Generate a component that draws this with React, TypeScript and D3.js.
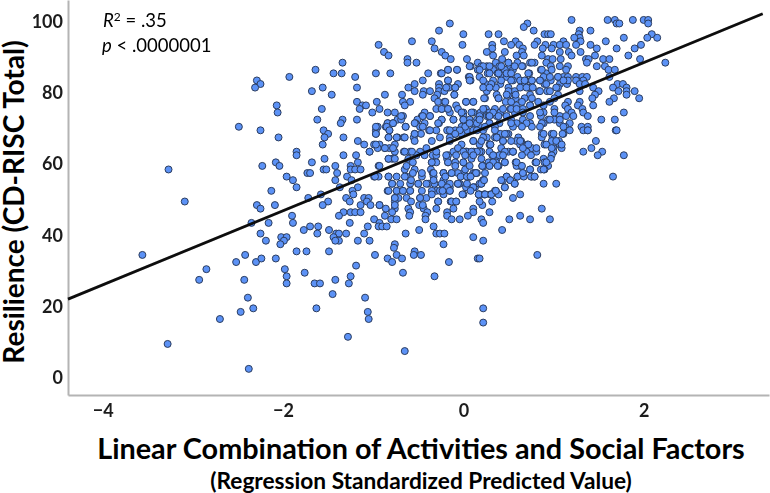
import React, { useEffect, useRef } from 'react';
import * as d3 from 'd3';

const width = 770;
const height = 493;

const xTicks = [-4, -2, 0, 2];
const yTicks = [0, 20, 40, 60, 80, 100];

// fit line, resilience = intercept + slope * predicted
const fitSlope = 10.4;
const fitIntercept = 67.2;

type Pt = [number, number];

const farLeft: Pt[] = [
  [-1.93,84],[-2.29,83],[-2.25,82],[-2.31,81],[-2.07,76],[-2.06,74],[-2.49,70],[-2.25,69],[-2.05,67],[-1.85,63],[-1.85,62],
  [-3.27,58],[-2.23,59],[-2.08,60],[-2.04,59],[-1.96,56],[-1.89,55],[-1.85,53],[-2.13,52],[-3.09,49],[-2.29,48],[-2.25,47],
  [-2.09,48],[-1.90,45],[-1.89,43],[-2.35,43],[-2.16,43],[-2.25,40],[-2.19,38],[-2.02,39],[-1.96,39],[-1.99,38],[-2.03,37],
  [-1.85,35],[-3.56,34],[-2.42,34],[-2.52,32],[-2.30,32],[-2.24,33],[-2.08,33],[-2.85,30],[-2.93,27],[-2.43,27],[-1.98,30],
  [-1.96,28],[-1.96,26],[-2.39,22],[-2.33,19],[-2.47,18],[-2.70,16],[-3.28,9],[-2.38,2],
];

const upperMiddle: Pt[] = [
  [-0.15,99],[-0.27,97],[0,96],[-0.01,93],[-0.35,94],[-0.32,92],[-0.57,94],[-0.94,93],[-0.88,91],[-0.83,90],[-0.24,91],[-0.20,90],
  [-0.14,89],[0.04,89],[-0.62,89],[-0.62,88],[-0.52,88],[-1.34,88],[-1.64,86],[-1.44,85],[-1.35,85],[-0.97,85],[-0.81,85],[-1.20,84],
  [-0.39,85],[-0.25,85],[-0.17,86],[-0.07,86],[0.08,87],[0.16,88],[0.16,86],[0.06,84],[0.08,83],[0.18,84],[-0.45,83],[-0.17,83],
  [-0.27,82],[-0.06,82],[-0.54,82],[-0.61,81],[-0.54,80],[-1.68,80],[-1.56,81],[-1.18,81],[-1.46,79],[-0.87,79],[-0.68,79],[-0.44,80],
  [-0.37,80],[-0.45,79],[-0.27,81],[-0.27,80],[-0.21,80],[-0.16,81],[-0.09,81],[-0.10,79],[-0.29,79],[-0.32,78],[-1.18,77],[-0.96,77],
  [-0.67,77],[-0.59,77],[-0.65,76],[-0.28,77],[-0.21,77],[0.03,77],[0.11,77],[-1.12,76],[-1.08,76],[-1.15,75],[-0.93,75],[-1.57,75],
  [-0.08,76],[-0.06,75],[-0.30,75],[-0.24,75],[-0.17,75],[-0.15,74],[-1.01,74],[-0.84,74],[-0.76,74],[-0.43,74],[-0.67,73],[-0.46,73],
  [-0.37,73],[0,74],[0.11,74],[0,73],[-1.62,72],[-1.34,72],[-1.18,72],[-0.73,72],[-0.69,72],[-0.51,72],[-0.24,72],[-0.11,72],[0,72],
  [0.07,72],[0.15,72],[-1.36,71],[-0.84,71],[-0.78,71],[-0.53,71],[-0.43,71],[-0.27,71],[0.02,71],[0.11,71],[-0.95,70],[-0.64,70],
  [-0.48,70],[-0.86,70],[-0.02,70],[-1.55,69],[-0.97,69],[-0.82,69],[-0.38,69],[-0.30,69],[-0.17,69],[-0.09,69],[0.04,69],[-1.50,68],
  [-0.97,68],[-0.54,68],[-0.47,68],[-0.10,68],[-1.54,67],[-1.33,67],[-1.17,66],[-0.83,67],[-0.73,67],[-0.66,67],[-0.55,67],
];

const lowerMiddle: Pt[] = [
  [-1.56,65],[-1.10,65],[-0.99,65],[-0.93,65],[-0.95,64],[-1.04,63],[-0.87,64],[-0.82,64],[-0.76,65],[-0.66,63],[-0.59,63],[-0.48,63],
  [-0.76,63],[-0.83,61],[-0.79,61],[-1.33,62],[-1.19,62],[-1.54,61],[-1.68,60],[-1.17,60],[-1.42,59],[-1.25,59],[-0.94,59],[-1.25,58],
  [-1.20,58],[-1.14,58],[-1.55,58],[-1.52,58],[-1.73,57],[-1.70,57],[-1.40,57],[-1.29,56],[-0.99,56],[-0.94,56],[-0.83,56],[-0.74,56],
  [-1.42,55],[-1.24,55],[-0.79,54],[-1.37,53],[-1.17,53],[-1.23,52],[-0.84,52],[-0.74,52],[-0.67,52],[-0.59,52],[-1.58,51],[-1.22,51],
  [-1.72,50],[-1.30,50],[-0.76,50],[-0.72,50],[-1.10,50],[-1.05,50],[-1.26,49],[-1.50,49],[-1.56,48],[-1.07,49],[-1.14,48],[-1.03,48],
  [-0.93,48],[-0.76,49],[-0.63,50],[-0.58,49],[-0.48,50],[-0.49,48],[-0.86,47],[-0.76,47],[-0.61,47],[-0.44,47],[-0.30,47],[-1.33,46],
  [-1.25,46],[-1.20,46],[-1.14,46],[-0.79,46],[-0.59,46],[-0.40,46],[-1.38,45],[-0.87,45],[-0.60,45],[-0.42,45],[-0.18,46],[0.11,47],
  [0.11,46],[0.05,45],[-0.04,44],[-0.18,45],[-0.99,44],[-0.80,44],[-0.74,44],[-0.42,44],[-0.13,44],[-1.26,43],[-0.93,43],[-0.94,42],
  [-0.90,42],[-0.85,42],[-1.06,42],[-1.70,42],[-1.61,42],[-1.77,41],[-1.49,41],[-0.49,41],[-0.33,42],[-1.10,40],[-1.30,40],[-1.62,40],
  [-1.41,40],[-1.38,40],[-0.64,40],[-0.30,40],[-0.26,40],[-0.21,40],[-1.44,39],[-1.38,38],[-1.42,38],[-1.17,38],[-1.04,38],[0.11,39],
  [-0.22,37],[-0.76,37],[-0.77,36],[-1.74,35],[-1.49,35],[-0.54,35],[-0.98,34],[-0.74,34],[-0.55,34],[-0.47,34],[0.16,33],[-0.84,33],
  [-0.68,33],[-0.79,32],[-0.16,32],[-1.19,31],[-1.76,29],[-1.65,26],[-1.59,26],[-1.42,27],[-1.25,28],[-1.27,26],[-1.45,23],[-1.09,22],
  [-1.63,19],[-1.06,18],[-1.05,16],[-1.28,11],[-0.65,7],[-0.67,29],[-0.32,28],[0.22,19],[0.22,15],
];

const denseCentre: Pt[] = [
  [-0.52,62],[-0.43,62],[-0.34,62],[-0.30,62],[-0.17,62],[0.03,63],[0.11,63],[-0.61,61],[-0.56,60],[-0.35,60],[-0.30,60],[-0.17,60],
  [-0.00,60],[0.09,61],[-0.65,58],[-0.54,58],[-0.36,58],[-0.13,57],[0.11,57],[0,57],[-0.34,57],[-0.22,57],[-0.63,56],[-0.46,56],
  [-0.33,56],[-0.22,55],[-0.04,54],[0.07,56],[0.15,57],[-0.70,54],[-0.59,54],[-0.50,54],[-0.39,54],[-0.32,54],[-0.19,53],[-0.06,54],
  [0.04,53],[0.13,53],[-0.30,52],[-0.22,52],[-0.15,53],[-0.22,51],[0,51],[0.11,53],[-0.28,49],[-0.14,49],[-0.08,49],[-0.11,47],[-0.41,50],
];

const upperRight: Pt[] = [
  [1.20,100],[1.60,100],[1.68,100],[1.70,99],[1.73,99],[1.88,100],[2.0,100],[2.05,100],[2.05,99],[0.71,99],[0.67,98],[0.78,97],[1.29,97],
  [1.41,97],[0.28,96],[0.39,96],[0.90,96],[0.94,96],[0.97,96],[1.28,96],[1.29,95],[2.09,96],[2.04,95],[2.15,95],[1.78,95],[1.23,95],
  [1.58,94],[0.45,94],[0.58,94],[0.82,94],[1.30,94],[1.11,94],[0.32,93],[0.53,93],[0.62,93],[0.79,93],[0.91,93],[1.0,93],[1.07,93],
  [1.14,93],[1.25,93],[1.41,93],[1.97,93],[0.32,92],[0.88,92],[0.66,92],[0.98,92],[1.48,92],[1.70,92],[1.90,92],[0.26,91],[0.46,91],
  [0.65,91],[1.07,91],[1.17,91],[1.30,91],[0.87,90],[0.59,90],[0.33,90],[0.67,90],[1.20,90],[1.46,90],[1.83,90],[0.43,89],[0.94,89],
  [0.99,89],[1.36,89],[1.39,89],[1.55,89],[1.62,89],[1.96,89],[1.08,89],[0.36,88],[0.50,88],[0.60,88],[0.74,88],[0.79,88],[0.92,88],
  [1.37,88],[2.24,88],[0.26,87],[0.40,87],[0.52,87],[0.66,87],[0.97,87],[1.16,87],[1.48,87],[1.57,87],[0.20,87],[0.33,86],[0.46,86],
  [0.55,86],[0.86,86],[1.61,86],[1.68,86],[0.27,85],[0.38,85],[0.52,85],[0.73,85],[0.92,85],[0.60,84],[0.42,84],[0.48,84],[1.05,84],
  [1.11,84],[1.16,84],[1.25,84],[1.32,84],[1.37,84],[0.89,84],[1.62,84],[0.33,83],[0.55,83],[0.69,83],[0.76,83],[0.85,83],[0.97,83],
  [1.25,83],[1.33,83],[0.25,82],[0.41,82],[0.66,82],[0.90,82],[1.07,82],[1.15,82],[1.29,82],[1.35,82],[1.71,82],[1.77,82],[0.36,81],
  [0.50,81],[0.72,81],[1.05,81],[1.44,81],[1.66,81],[1.81,81],[0.26,80],[0.57,80],[0.84,80],[0.93,80],[1.29,80],[1.50,80],[1.72,80],
  [1.90,80],[1.81,80],[0.37,79],[0.50,79],[0.74,79],[1.05,79],[1.46,79],[1.81,79],[0.24,78],[0.58,78],[0.68,78],[1.43,78],[1.67,78],
  [1.95,78],[0.39,78],[0.47,77],[0.83,77],[0.96,77],[1.16,77],[1.29,77],[1.62,77],[0.59,76],[0.74,76],[1.13,76],[1.27,76],[1.44,76],
  [1.32,75],[0.25,75],[0.35,75],[0.52,75],[0.66,75],[1.01,75],[1.16,75],[0.19,74],[0.29,74],[0.41,74],[0.57,74],[0.89,74],[1.20,74],
  [1.33,74],[1.78,74],[0.26,73],[0.37,73],[0.74,73],[0.86,73],[1.07,73],[1.22,73],[1.38,73],[0.18,72],[0.53,72],[0.66,72],[0.94,72],
  [1.01,72],[1.53,72],[1.68,72],[0.29,71],[0.40,71],[0.59,71],[0.74,71],[0.89,71],[1.07,71],[1.18,71],[0.55,70],[0.76,70],[1.13,70],
  [1.31,70],[1.38,70],[0.18,70],[1.33,69],[1.38,69],[1.69,69],[0.41,68],[0.50,68],[0.98,68],[1.11,68],[0.26,67],[0.37,67],[0.61,67],
  [0.99,67],[1.47,66],
];

const lowerRight: Pt[] = [
  [0.87,68],[0.48,68],[1.10,68],[1.18,69],[1.38,69],[1.70,69],[0.87,67],[0.35,67],[0.59,66],[0.64,66],[0.98,66],[1.06,66],[0.44,66],
  [0.30,65],[0.71,65],[0.90,65],[1.07,65],[0.63,65],[0.42,64],[0.76,64],[1.0,64],[1.09,64],[1.42,64],[0.55,63],[0.50,63],[0.70,63],
  [0.81,63],[1.0,63],[1.33,63],[1.54,63],[0.20,63],[0.32,62],[0.40,62],[0.43,62],[0.65,62],[0.75,62],[0.98,62],[1.49,62],[1.78,62],
  [0.37,61],[0.89,61],[0.97,61],[0.28,60],[0.36,60],[0.46,60],[0.58,60],[0.80,60],[0.90,60],[0.21,59],[0.29,59],[0.39,59],[0.63,59],
  [0.94,59],[0.59,59],[0.74,58],[0.86,58],[0.90,58],[0.66,57],[0.48,56],[0.60,56],[0.67,56],[0.76,56],[0.79,56],[1.66,56],[0.22,55],
  [0.44,55],[0.52,55],[0.20,54],[0.57,54],[0.89,54],[1.03,54],[0.46,53],[0.36,52],[0.63,51],[0.18,51],[0.23,51],[0.30,51],[0.55,50],
  [0.32,49],[0.21,48],[0.87,47],[0.29,46],[0.63,45],[0.51,44],[0.74,44],[0.96,44],[0.20,44],[0.22,43],[0.43,41],[0.22,38],[0.82,34],[0.18,33],
];

// second reading of the crowded middle of the cloud
const crowdHigh: Pt[] = [
  [0.07,87],[0.22,87],[0.29,87],[0.42,87],[0.50,88],[0.57,87],[0.65,87],[0.76,88],[0.87,86],[0.98,86],[1.07,87],
  [-0.24,85],[-0.17,86],[-0.07,86],[0.18,86],[0.29,85],[0.39,85],[0.48,85],[0.53,85],[0.72,85],[0.96,84],[1.05,84],[1.14,86],
  [-0.17,83],[0.07,84],[0.22,83],[0.31,82],[0.42,83],[0.53,83],[0.63,83],[0.68,83],[0.76,83],[0.85,83],[1.16,83],
  [-0.19,81],[-0.09,81],[0.07,83],[0.22,81],[0.29,81],[0.50,80],[0.63,81],[0.70,81],[0.77,81],[0.92,82],[1.03,81],[1.11,83],
  [-0.10,79],[0.23,78],[0.39,78],[0.48,79],[0.58,79],[0.85,80],[0.96,80],[-0.20,77],[0.03,77],[0.11,77],[0.53,77],[0.65,77],[0.76,78],[1.01,78],
  [-0.24,75],[-0.17,75],[0.22,75],[0.33,74],[0.44,75],[0.53,75],[0.59,75],[0.74,76],[0.89,76],
  [-0.02,74],[0.09,74],[0.18,73],[0.28,73],[0.39,73],[0.48,73],[0.66,74],[0.85,74],[1.01,74],[1.14,73],
  [-0.24,72],[-0.11,72],[0,72],[0.15,71],[0.29,71],[0.53,71],[0.70,71],[0.87,71],[0.96,72],[1.07,72],
  [-0.18,69],[-0.09,68],[0.02,70],[0.11,69],[0.22,69],[0.35,70],[0.46,68],[0.65,70],[0.85,70],[1.0,68],[1.11,70],
  [-0.15,67],[-0.02,68],[0.11,66],[0.22,67],[0.37,67],[0.53,66],[0.63,66],[0.89,68],[1.03,66],
  [-0.02,65],[0.18,65],[0.29,65],[0.44,66],[0.72,65],[0.81,64],[0.92,65],[1.09,65],
  [-0.11,63],[0.04,63],[0.18,63],[0.33,62],[0.46,63],[0.55,63],[0.66,64],[0.98,64],
];

const crowdMid: Pt[] = [
  [-0.84,71],[-0.78,71],[-0.69,73],[-0.54,71],[-0.45,73],[-0.37,73],[-0.28,71],[-0.15,69],[-0.04,69],[0.07,71],[0.18,72],[0.29,73],
  [-0.97,70],[-0.85,70],[-0.82,69],[-0.64,70],[-0.54,68],[-0.45,70],[-0.37,69],[-0.26,67],[-0.09,68],[0.15,69],[0.24,70],[0.35,69],
  [-0.97,68],[-0.83,67],[-0.74,67],[-0.65,67],[-0.54,66],[-0.35,66],[-0.15,66],[0.11,66],[0.20,66],[0.30,65],[0.37,67],
  [-0.97,65],[-0.87,64],[-0.78,64],[-0.65,63],[-0.57,63],[-0.41,64],[-0.30,63],[-0.06,64],[0.03,63],[0.15,63],[0.29,63],
  [-1.04,63],[-0.83,61],[-0.76,61],[-0.35,60],[-0.18,61],[-0.09,60],[0,63],[0.09,63],[0.22,59],[0.33,60],[0.40,62],
  [-0.93,59],[-0.98,56],[-0.83,56],[-0.63,59],[-0.56,57],[-0.46,57],[-0.33,57],[-0.22,57],[-0.06,57],[0.02,58],[0.13,57],[0.24,57],
  [-0.79,54],[-0.65,56],[-0.58,55],[-0.50,54],[-0.41,54],[-0.33,55],[-0.24,54],[-0.15,54],[-0.06,54],[0.07,56],[0.22,55],
  [-0.83,52],[-0.74,52],[-0.67,52],[-0.59,52],[-0.46,52],[-0.35,52],[-0.26,52],[-0.15,52],[0.03,53],[0.18,54],[0.35,52],
  [-0.76,50],[-0.48,50],[-0.35,51],[-0.28,49],[-0.13,49],[-0.08,49],[0.17,51],[0.24,51],[0.39,51],[-0.93,48],[-0.76,48],[-0.45,48],[0.18,49],
];

const crowdLow: Pt[] = [
  [-0.19,62],[-0.08,62],[0.02,62],[0.11,62],[0.20,61],[0.33,62],[0.44,62],[0.55,63],
  [-0.17,60],[-0.09,59],[0,60],[0.07,59],[0.21,59],[0.29,59],[0.38,59],[0.46,60],[0.59,60],[0.65,59],[0.81,60],[0.89,58],[0.92,60],
  [-0.22,57],[-0.13,57],[-0.03,56],[0.04,56],[0.14,57],[0.08,56],[0.48,56],[0.60,56],[0.66,57],[0.74,58],[0.75,56],[0.79,56],
  [-0.20,56],[-0.18,53],[-0.06,54],[0.04,54],[0.11,53],[0.20,54],[0.23,55],[0.42,55],[0.46,53],[0.52,55],[0.57,54],
  [-0.23,52],[-0.15,52],[-0.01,51],[0.08,52],[0.17,51],[0.24,51],[0.31,51],[0.36,52],
];

const scatter: Pt[] = [
  ...farLeft, ...upperMiddle, ...lowerMiddle, ...denseCentre, ...upperRight, ...lowerRight, ...crowdHigh, ...crowdMid, ...crowdLow,
];

function App() {
  const ref = useRef<SVGGElement | null>(null);

  useEffect(() => {
    const root = d3.select(ref.current);
    root.selectAll('*').remove();

    const x = d3.scaleLinear().domain([-4.385, 3.39]).range([68, 769]);
    const y = d3.scaleLinear().domain([-5.34, 105.6]).range([395, 0]);

    const xAxis = root
      .append('g')
      .attr('transform', 'translate(0,395)')
      .call(d3.axisBottom(x).tickValues(xTicks).tickSize(0).tickPadding(9).tickFormat((d) => String(d).replace('-', '\u2212')));
    const yAxis = root
      .append('g')
      .attr('transform', 'translate(68,0)')
      .call(d3.axisLeft(y).tickValues(yTicks).tickSize(0).tickPadding(5));
    yAxis.selectAll('text').attr('dy', '0.42em');

    [xAxis, yAxis].forEach((g) => {
      g.select('.domain').attr('stroke', '#b4b4b4').attr('stroke-width', 2);
      g.selectAll('text')
        .attr('fill', '#1c1c1c')
        .style('font-family', 'Lato')
        .style('font-weight', 700)
        .style('font-size', '18px');
    });

    root
      .append('g')
      .selectAll('circle')
      .data(scatter)
      .enter()
      .append('circle')
      .attr('cx', (d) => x(d[0]))
      .attr('cy', (d) => y(d[1]))
      .attr('r', 3.5)
      .attr('fill', '#5b92f6')
      .attr('stroke', '#2b3c5e')
      .attr('stroke-width', 1);

    // fit line goes over the points
    const fitEnds = [-4.385, 3.32];
    root
      .append('line')
      .attr('x1', x(fitEnds[0]))
      .attr('y1', y(fitIntercept + fitSlope * fitEnds[0]))
      .attr('x2', x(fitEnds[1]))
      .attr('y2', y(fitIntercept + fitSlope * fitEnds[1]))
      .attr('stroke', '#0a0a0a')
      .attr('stroke-width', 2.8);
  }, []);

  return (
    <svg
      width={width}
      height={height}
      style={{ position: 'absolute', left: 0, top: 0, display: 'block', background: '#fff' }}
    >
      <defs>
        <filter id="soft" x="0" y="0" width="1" height="1">
          <feGaussianBlur stdDeviation="0.4" />
        </filter>
      </defs>
      <g ref={ref} filter="url(#soft)" />
      <g fontFamily="Lato" fill="#000">
        <text x={103} y={27} fontSize={18.5}>
          <tspan fontStyle="italic">R</tspan>
          <tspan fontSize={12} dy={-6}>2</tspan>
          <tspan dy={6}> = .35</tspan>
        </text>
        <text x={102} y={52} fontSize={18.5}>
          <tspan fontStyle="italic">p</tspan> &lt; .0000001
        </text>
        <text
          transform="translate(24,202) rotate(-90)"
          textAnchor="middle"
          fontSize={28}
          fontWeight={700}
        >
          Resilience (CD-RISC Total)
        </text>
        <text x={421} y={459} textAnchor="middle" fontSize={28.8} fontWeight={700}>
          Linear Combination of Activities and Social Factors
        </text>
        <text x={421} y={489} textAnchor="middle" fontSize={22.7} fontWeight={700}>
          (Regression Standardized Predicted Value)
        </text>
      </g>
    </svg>
  );
}

export default App;
